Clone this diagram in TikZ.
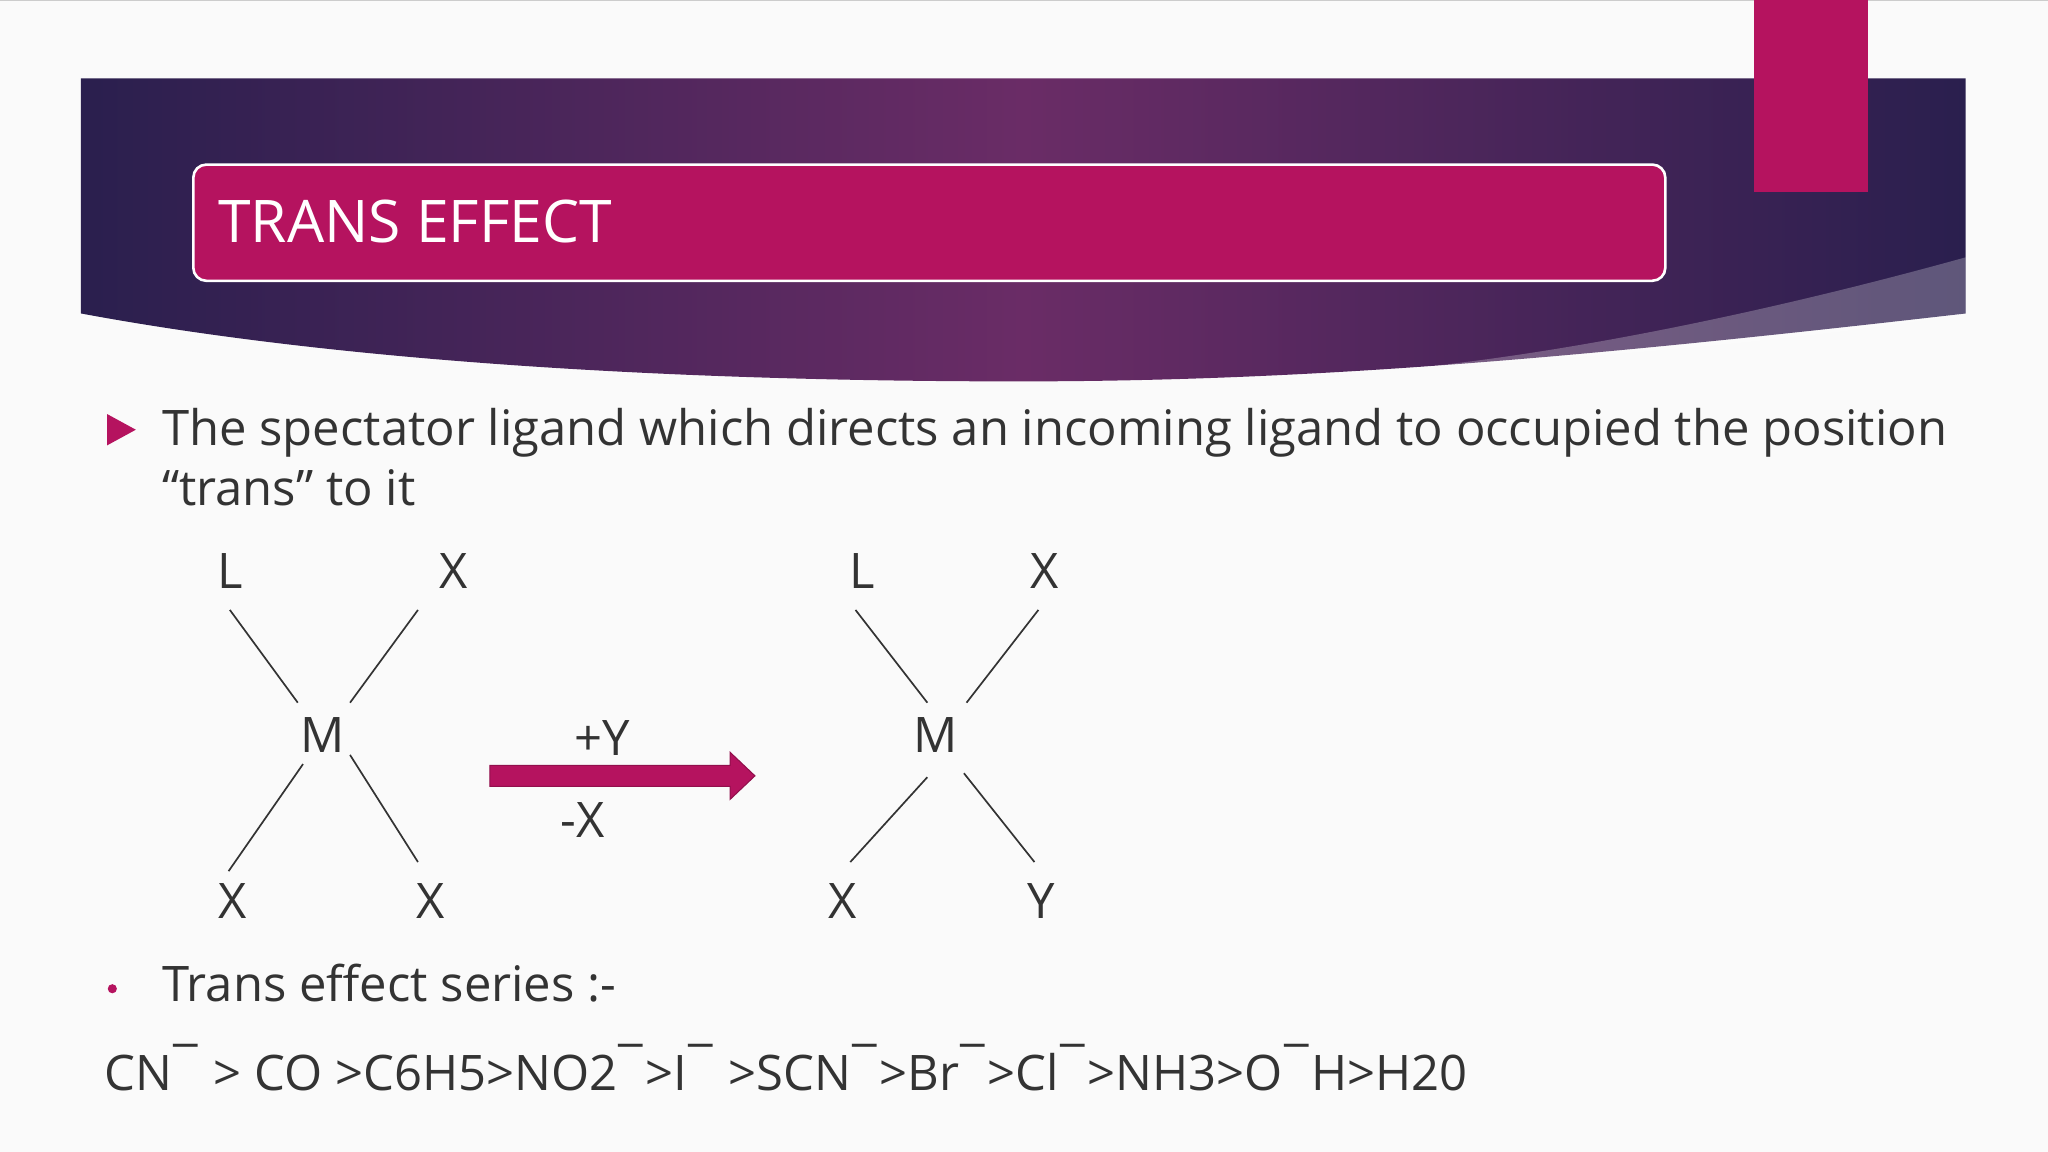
\documentclass[tikz,border=0pt]{standalone}
\usepackage{fontspec}
\setmainfont{Open Sans}
\definecolor{mag}{HTML}{B5135F}
\definecolor{dpurp}{HTML}{2A1F4E}
\definecolor{mpurp}{HTML}{6A2C66}
\definecolor{txt}{HTML}{333333}
\newcommand{\mb}{\kern1pt\raisebox{0.12em}{¯}\kern2pt}
\tikzset{lbl/.style={font=\fontsize{37.5}{42}\selectfont,text=txt,inner sep=0pt},
 bond/.style={line width=1.3pt,black!80}}
\begin{document}
\begin{tikzpicture}[x=1pt,y=-1pt]
\useasboundingbox (0,0) rectangle (1568,882);
\fill[white!98!black] (0,0) rectangle (1568,882);
\draw[gray!40] (0,0.5)--(1568,0.5);
% banner
\shade[left color=dpurp,right color=dpurp,middle color=mpurp] (62,60) -- (1505,60) -- (1505,240) .. controls (1200,275) and (1000,292) .. (780,292) .. controls (500,292) and (250,275) .. (62,240) -- cycle;
\fill[white,opacity=0.25] (1505,197) .. controls (1350,240) and (1200,270) .. (1080,282) .. controls (1250,272) and (1400,258) .. (1505,240) -- cycle;
\fill[mag] (1343,0) rectangle (1430,147);
\draw[white,line width=2pt,fill=mag,rounded corners=10pt] (148,126) rectangle (1275,215);
\node[anchor=base west,text=white,font=\fontsize{45}{50}\selectfont,inner sep=0pt] (title) at (167,186) {TRANS EFFECT};
% bullet
\fill[mag] (82,317) -- (104,329) -- (82,341) -- cycle;
\node[lbl,anchor=base west] (t1) at (124,341) {The spectator ligand which directs an incoming ligand to occupied the position};
\node[lbl,anchor=base west] (t2) at (124,387) {“trans” to it};
% left complex
\node[lbl] (L1) at (176,437) {L};
\node[lbl] (X1) at (347,437) {X};
\node[lbl] (M1) at (247,563) {M};
\node[lbl] (X2) at (178,690) {X};
\node[lbl] (X3) at (330,690) {X};
\coordinate (a1) at (176,467); \coordinate (a2) at (228,538);
\coordinate (b1) at (320,467); \coordinate (b2) at (268,538);
\coordinate (c1) at (232,585); \coordinate (c2) at (175,667);
\coordinate (d1) at (268,578); \coordinate (d2) at (320,660);
\draw[bond] (a1)--(a2); \draw[bond] (b1)--(b2); \draw[bond] (c1)--(c2); \draw[bond] (d1)--(d2);
% arrow
\coordinate (arr) at (375,594);
\draw[fill=mag,draw=mag!80!black,line width=0.8pt] (375,586) -- (559,586) -- (559,576) -- (578,594) -- (559,612) -- (559,602) -- (375,602) -- cycle;
\node[lbl] (pY) at (461,565) {+Y};
\node[lbl] (mX) at (446,628) {-X};
% right complex
\node[lbl] (L2) at (660,437) {L};
\node[lbl] (X4) at (800,437) {X};
\node[lbl] (M2) at (716,563) {M};
\node[lbl] (X5) at (645,690) {X};
\node[lbl] (Y1) at (797,690) {Y};
\coordinate (e1) at (655,467); \coordinate (e2) at (710,538);
\coordinate (f1) at (795,467); \coordinate (f2) at (740,538);
\coordinate (g1) at (710,595); \coordinate (g2) at (651,660);
\coordinate (h1) at (738,592); \coordinate (h2) at (792,660);
\draw[bond] (e1)--(e2); \draw[bond] (f1)--(f2); \draw[bond] (g1)--(g2); \draw[bond] (h1)--(h2);
% series
\fill[mag] (86,757) circle (3.5);
\node[lbl,anchor=base west] (t3) at (124,767) {Trans effect series :-};
\node[lbl,anchor=base west] (t4) at (80,835) {CN\mb\ > CO >C6H5>NO2\mb>I\mb\ >SCN\mb>Br\mb>Cl\mb>NH3>O\mb H>H20};
\end{tikzpicture}
\end{document}
